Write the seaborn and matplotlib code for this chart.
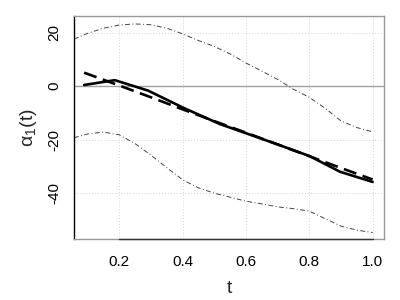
import numpy as np
import pandas as pd
import matplotlib
matplotlib.use('Agg')
import matplotlib.pyplot as plt
import seaborn as sns

### Data ###
t_est = [0.089, 0.186, 0.291, 0.402, 0.518, 0.602, 0.70, 0.802, 0.897, 1.0]
alpha_est = [0.4, 2.2, -1.7, -8.1, -14.2, -17.7, -21.8, -26.2, -32.0, -35.8]

t_true = [0.089, 0.2, 0.3, 0.4, 0.5, 0.6, 0.7, 0.8, 0.9, 1.0]
alpha_true = [5.0, 0.2, -4.2, -8.7, -13.1, -17.4, -21.8, -26.2, -30.6, -34.9]

t_band = [0.057, 0.1, 0.15, 0.2, 0.25, 0.3, 0.35, 0.4, 0.45, 0.5, 0.55,
          0.6, 0.65, 0.7, 0.75, 0.8, 0.85, 0.9, 0.95, 1.0]
upper = [17.5, 19.7, 21.6, 22.8, 23.2, 22.9, 21.6, 19.5, 17.0, 14.8, 12.0,
         8.6, 5.6, 2.5, -1.2, -4.2, -8.3, -13.0, -15.5, -17.1]
lower = [-19.3, -17.9, -17.2, -18.2, -21.5, -25.8, -30.5, -35.0, -38.0, -40.0, -41.5,
         -43.0, -44.0, -45.1, -45.8, -46.7, -49.5, -52.3, -53.8, -54.7]

x_ticks = [0.2, 0.4, 0.6, 0.8, 1.0]
y_ticks = [-40, -20, 0, 20]

sns.set_style('white')
plt.rcParams['font.family'] = ['Liberation Sans', 'DejaVu Sans']
plt.rcParams['mathtext.fontset'] = 'custom'
plt.rcParams['mathtext.rm'] = 'Liberation Sans'
plt.rcParams['mathtext.default'] = 'regular'

fig = plt.figure(figsize = (4, 3), dpi = 100)
ax = fig.add_axes([0.185, 0.2017, 0.775, 0.7453])

# Grid and zero line
for xv in x_ticks :
    ax.axvline(xv, color = '#d3d3d3', linestyle = (0, (1, 2)), linewidth = 0.7, zorder = 0)
for yv in y_ticks :
    ax.axhline(yv, color = '#d3d3d3', linestyle = (0, (1, 2)), linewidth = 0.7, zorder = 0)
ax.axhline(0, color = '#a0a0a0', linewidth = 1.0, zorder = 1)

# Confidence bands
sns.lineplot(x = t_band, y = upper, ax = ax, color = '#444444', linewidth = 0.7,
             linestyle = (0, (5, 2.5, 1, 2.5)), sort = False)
sns.lineplot(x = t_band, y = lower, ax = ax, color = '#444444', linewidth = 0.7,
             linestyle = (0, (5, 2.5, 1, 2.5)), sort = False)

# Estimate and true curve
sns.lineplot(x = t_est, y = alpha_est, ax = ax, color = 'black', linewidth = 1.9, sort = False)
sns.lineplot(x = t_true, y = alpha_true, ax = ax, color = 'black', linewidth = 1.9,
             linestyle = (0, (5, 2.5)), sort = False)

ax.set_xlim(0.057, 1.036)
ax.set_ylim(-57.3, 26.2)
ax.set_xticks(x_ticks)
ax.set_xticklabels(['0.2', '0.4', '0.6', '0.8', '1.0'])
ax.set_yticks(y_ticks)
ax.set_yticklabels([str(v) for v in y_ticks], rotation = 90, va = 'center')

ax.tick_params(axis = 'both', direction = 'out', length = 5, width = 0.8,
               color = '#555555', labelsize = 11, labelcolor = 'black', pad = 4)
ax.tick_params(axis = 'x', pad = 6, color = '#222222')

for side in ['top', 'right', 'bottom', 'left'] :
    ax.spines[side].set_color('#999999')
    ax.spines[side].set_linewidth(1.0)
ax.spines['left'].set_color('black')

# Darker axis line between first and last tick
ax.plot([0.2, 1.0], [0, 0], transform = ax.get_xaxis_transform(), color = '#333333',
        linewidth = 1.0, clip_on = False, zorder = 5)

ax.set_xlabel('t', fontsize = 14, labelpad = 8)
ax.set_ylabel(r'$\alpha_1(t)$', fontsize = 14, labelpad = 6)

fig.savefig('out.png', dpi = 100)
